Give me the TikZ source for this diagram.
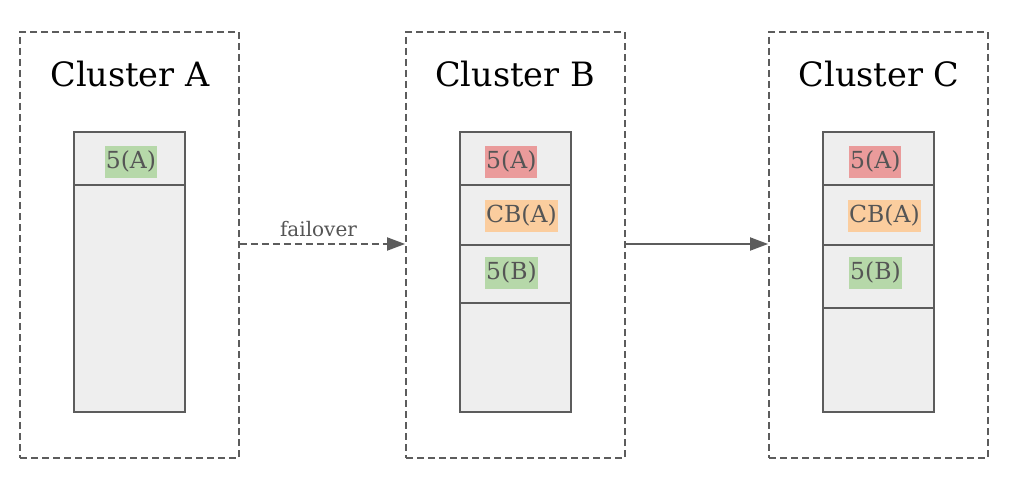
\documentclass[tikz,border=0pt]{standalone}
\usepackage{fontspec}
\setmainfont{DejaVu Serif}
\usetikzlibrary{arrows.meta}
\definecolor{edge}{HTML}{5C5C5C}
\definecolor{stackfill}{HTML}{EEEEEE}
\definecolor{lbl}{HTML}{555555}
\definecolor{hgreen}{HTML}{B6D8A9}
\definecolor{hred}{HTML}{EA9B9B}
\definecolor{horange}{HTML}{FBCD9E}
\tikzset{
  cluster/.style={draw=edge, line width=1.8pt, dash pattern=on 7pt off 4pt, minimum width=219pt, minimum height=426pt, inner sep=0pt},
  title/.style={font=\fontsize{33.5}{38}\selectfont, text=black, inner sep=0pt},
  stack/.style={draw=edge, fill=stackfill, line width=2pt, minimum width=111pt, minimum height=280pt, inner sep=0pt},
  row/.style={draw=edge, line width=2pt},
  tag/.style={font=\fontsize{23.5}{28}\selectfont, text=lbl, inner xsep=1pt, inner ysep=0pt, minimum height=32pt},
  link/.style={draw=edge, line width=1.8pt, -{Triangle[length=18pt,width=13pt]}},
  linklabel/.style={font=\fontsize{20}{24}\selectfont, text=lbl, inner sep=0pt}
}
\begin{document}
\begin{tikzpicture}[x=1pt,y=-1pt]
\useasboundingbox[fill=white] (0,0) rectangle (1023,487);
% clusters
\node[cluster] (ca) at (129.5,245) {};
\node[cluster] (cb) at (515.5,245) {};
\node[cluster] (cc) at (878.5,245) {};
\node[title] (ta) at (130,74) {Cluster A};
\node[title] (tb) at (515,74) {Cluster B};
\node[title] (tc) at (879,74) {Cluster C};
% stacks
\node[stack] (sa) at (129.5,272) {};
\node[stack] (sb) at (515.5,272) {};
\node[stack] (sc) at (878.5,272) {};
\draw[row] (sa.west |- 0,185) -- (sa.east |- 0,185);
\draw[row] (sb.west |- 0,185) -- (sb.east |- 0,185);
\draw[row] (sb.west |- 0,245) -- (sb.east |- 0,245);
\draw[row] (sb.west |- 0,303) -- (sb.east |- 0,303);
\draw[row] (sc.west |- 0,185) -- (sc.east |- 0,185);
\draw[row] (sc.west |- 0,245) -- (sc.east |- 0,245);
\draw[row] (sc.west |- 0,308) -- (sc.east |- 0,308);
% labels
\node[tag, fill=hgreen] (a1) at (131,161.5) {5(A)};
\node[tag, fill=hred, anchor=west] (b1) at (485,161.5) {5(A)};
\node[tag, fill=horange, anchor=west] (b2) at (485,215.5) {CB(A)};
\node[tag, fill=hgreen, anchor=west] (b3) at (485,272.5) {5(B)};
\node[tag, fill=hred, anchor=west] (c1) at (849,161.5) {5(A)};
\node[tag, fill=horange, anchor=west] (c2) at (848,215.5) {CB(A)};
\node[tag, fill=hgreen, anchor=west] (c3) at (849,272.5) {5(B)};
% connectors
\draw[link, dash pattern=on 7pt off 4pt] (ca.east |- 0,244) -- (cb.west |- 0,244)
  node[linklabel, midway, above=6pt, xshift=-4pt] (fl) {failover};
\draw[link] (cb.east |- 0,244) -- (cc.west |- 0,244);
\end{tikzpicture}
\end{document}
